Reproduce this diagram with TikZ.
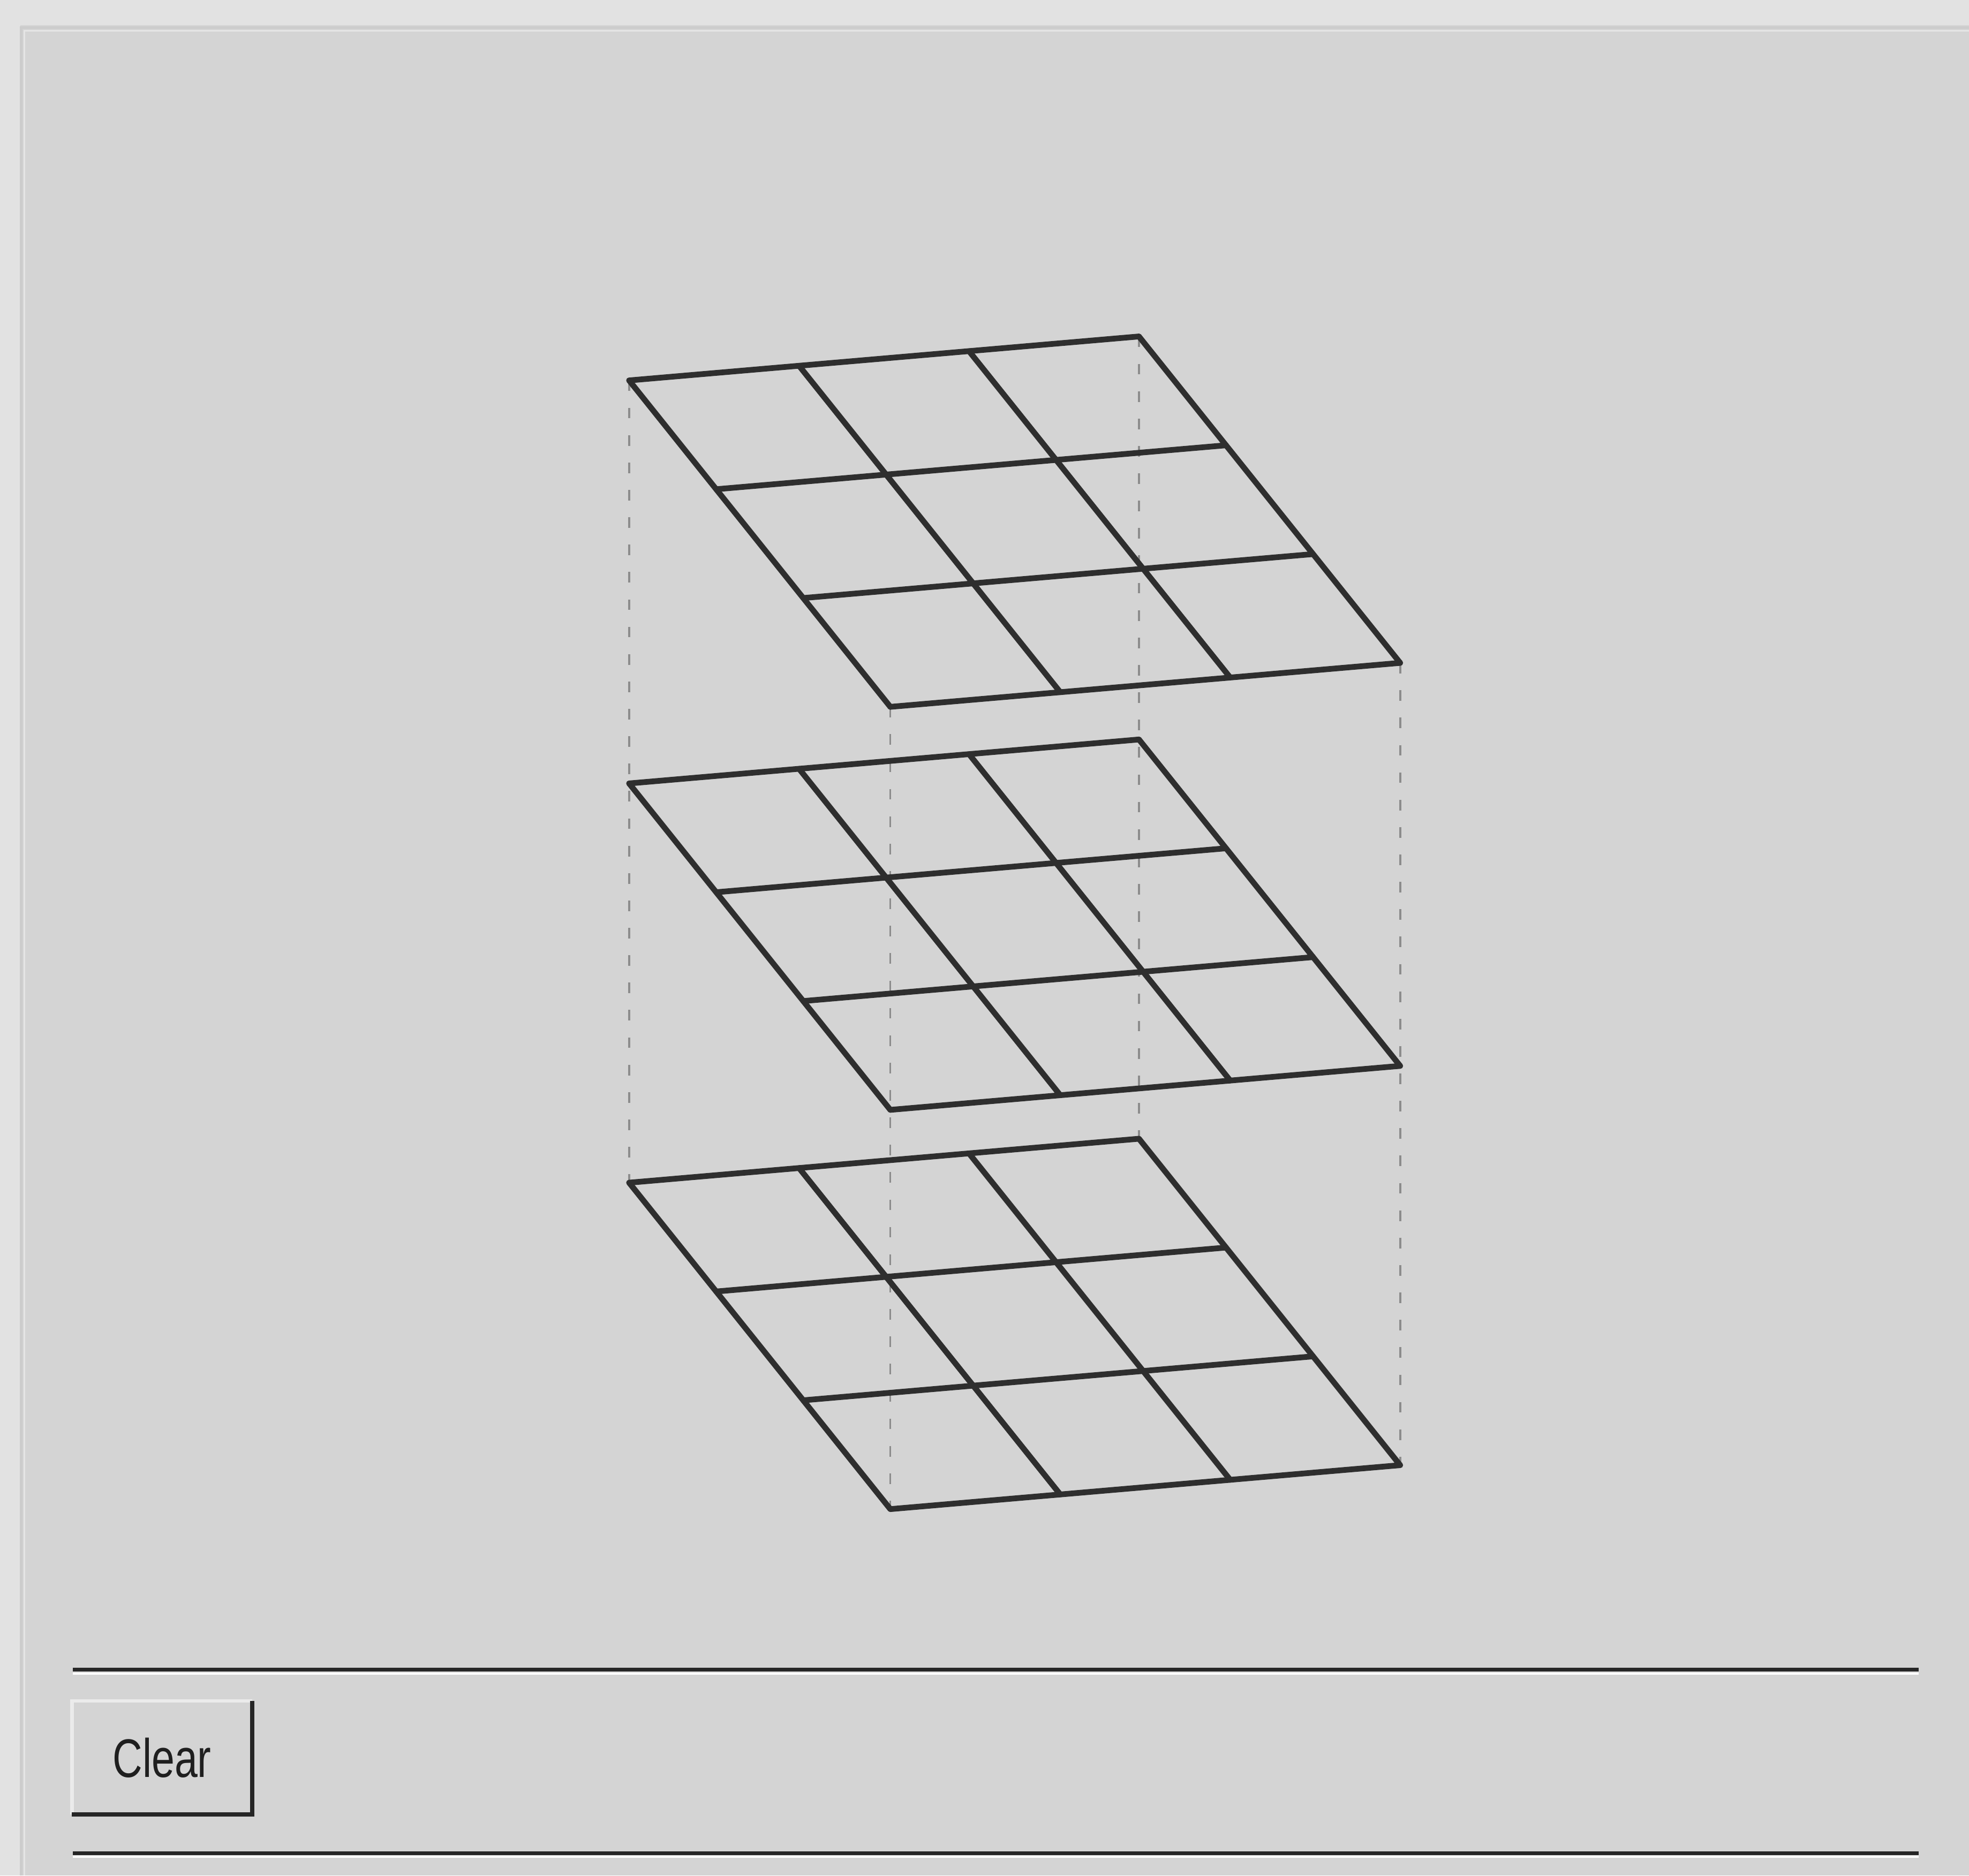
\documentclass[tikz,border=0pt]{standalone}
\usepackage{fontspec}
\setmainfont{Liberation Sans}
\usepackage{graphicx}
\usepackage{tikz}

\definecolor{fondo}{HTML}{D4D4D4}
\definecolor{marco}{HTML}{E2E2E2}
\definecolor{trazo}{HTML}{2E2E2E}
\definecolor{guia}{HTML}{8C8C8C}

\begin{document}
\begin{tikzpicture}[x=0.01cm, y=-0.01cm,
  rejilla/.style={draw=trazo, line width=1.3pt, line join=round, line cap=round},
  vertical/.style={draw=guia, line width=0.45pt, dash pattern=on 2.4pt off 3.8pt},
  separador/.style={draw=black!85, line width=0.85pt},
  boton/.style={minimum width=1.42cm, minimum height=0.89cm, inner sep=0pt, text=black!88, font=\fontsize{12.3}{14}\selectfont}]
\useasboundingbox (0,0) rectangle (1568,1494);
\fill[fondo] (0,0) rectangle (1568,1494);
\fill[marco] (0,0) rectangle (1568,20);
\fill[marco] (0,0) rectangle (16,1494);
\draw[black!20, line width=0.6pt] (17,1494) -- (17,22) -- (1568,22);
\draw[white!90!black, line width=0.4pt] (19.5,1494) -- (19.5,24.5) -- (1568,24.5);

\foreach \capa/\y in {sup/303, med/624, inf/942} {
  \coordinate (\capa-a) at (501,\y);
  \coordinate (\capa-b) at (907,\y-35);
  \coordinate (\capa-c) at (709,\y+260);
  \coordinate (\capa-d) at (1115,\y+225);
}
\foreach \p in {a,b,c,d}
  \draw[vertical] (sup-\p) -- (inf-\p);

\foreach \capa/\y in {sup/303, med/624, inf/942}
  \foreach \i in {0,...,3} {
    \draw[rejilla] (501+\i*406/3, \y-\i*35/3) -- ++(208,260);
    \draw[rejilla] (501+\i*208/3, \y+\i*260/3) -- ++(406,-35);
  }

\draw[separador] (58,1330) -- (1528,1330);
\draw[white, line width=0.5pt] (58,1333) -- (1528,1333);
\node[boton] (limpiar) at (129,1400) {\scalebox{0.76}[1]{Clear}};
\draw[white!92!black, line width=0.8pt] (limpiar.south west) -- (limpiar.north west) -- (limpiar.north east);
\draw[black!85, line width=1pt] (limpiar.south west) -- (limpiar.south east) -- (limpiar.north east);
\draw[separador] (58,1476) -- (1528,1476);
\draw[white, line width=0.5pt] (58,1479) -- (1528,1479);
\end{tikzpicture}
\end{document}
